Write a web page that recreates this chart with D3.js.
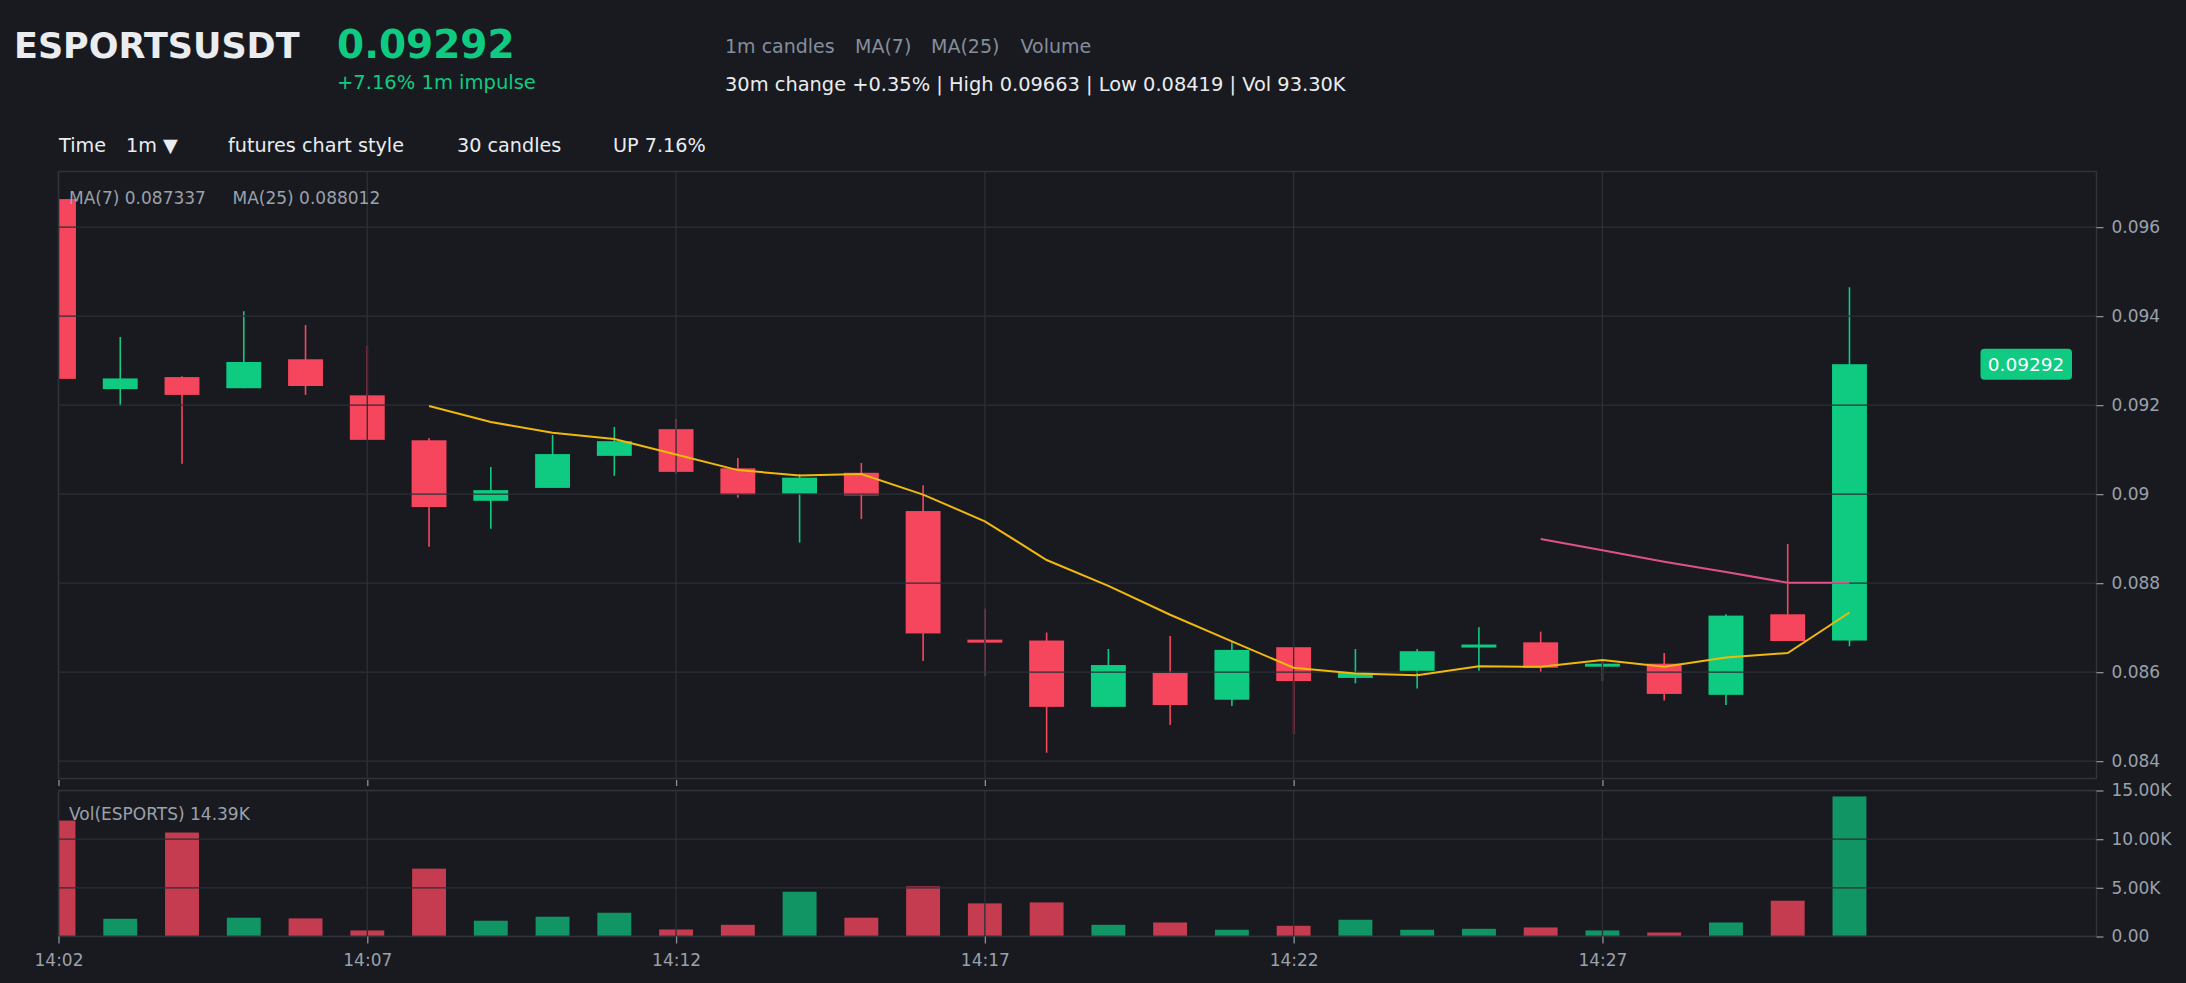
<!DOCTYPE html>
<html>
<head>
<meta charset="utf-8">
<script src="https://cdn.jsdelivr.net/npm/d3@7"></script>
<style>
  body { margin: 0; background: #181a20; }
  svg { display: block; font-family: "DejaVu Sans", sans-serif; }
</style>
</head>
<body>
<div id="chart"></div>
<script>
// 1m candles, 14:02 - 14:31
const times = ["14:02","14:03","14:04","14:05","14:06","14:07","14:08","14:09","14:10","14:11",
               "14:12","14:13","14:14","14:15","14:16","14:17","14:18","14:19","14:20","14:21",
               "14:22","14:23","14:24","14:25","14:26","14:27","14:28","14:29","14:30","14:31"];
const opens  = [0.09663,0.09236,0.09263,0.09238,0.09303,0.09222,0.09121,0.08985,0.09014,0.09086,
                0.09146,0.09058,0.09001,0.09048,0.08962,0.08673,0.08671,0.08522,0.08598,0.08538,
                0.08656,0.08587,0.08603,0.08658,0.08667,0.08614,0.08619,0.08549,0.08730,0.08671];
const highs  = [0.09663,0.09353,0.09265,0.09411,0.09380,0.09333,0.09126,0.09061,0.09133,0.09151,
                0.09169,0.09081,0.09045,0.09070,0.09020,0.08743,0.08689,0.08652,0.08681,0.08667,
                0.08656,0.08652,0.08652,0.08701,0.08691,0.08628,0.08643,0.08730,0.08888,0.09465];
const lows   = [0.09259,0.09198,0.09068,0.09238,0.09223,0.09121,0.08882,0.08922,0.09014,0.09041,
                0.09046,0.08992,0.08891,0.08944,0.08625,0.08592,0.08419,0.08522,0.08481,0.08524,
                0.08461,0.08575,0.08563,0.08603,0.08600,0.08580,0.08536,0.08526,0.08670,0.08658];
const closes = [0.09259,0.09260,0.09223,0.09297,0.09243,0.09122,0.08971,0.09009,0.09090,0.09119,
                0.09050,0.08999,0.09037,0.08997,0.08687,0.08669,0.08522,0.08616,0.08526,0.08650,
                0.08580,0.08599,0.08647,0.08662,0.08610,0.08619,0.08551,0.08727,0.08670,0.09292];
// volume in thousands
const volumes = [11.91,1.82,10.68,1.93,1.86,0.62,6.97,1.62,2.03,2.44,
                 0.72,1.20,4.60,1.93,5.15,3.40,3.50,1.20,1.44,0.69,
                 1.10,1.72,0.69,0.79,0.93,0.62,0.41,1.44,3.68,14.39];
// moving averages as drawn (null = not enough candles yet)
const ma7  = [null,null,null,null,null,null,0.09198,0.09162,0.09138,0.09124,
              0.09089,0.09054,0.09042,0.09045,0.08999,0.08939,0.08852,0.08794,0.08729,0.08669,
              0.08610,0.08597,0.08593,0.08613,0.08612,0.08627,0.08612,0.08633,0.08643,0.08734];
const ma25 = [null,null,null,null,null,null,null,null,null,null,
              null,null,null,null,null,null,null,null,null,null,
              null,null,null,null,0.08899,0.08874,0.08848,0.08825,0.08801,0.08801];

const priceTicks = [0.084,0.086,0.088,0.090,0.092,0.094,0.096];
const volTicks = [0,5,10,15];
const timeTicks = ["14:02","14:07","14:12","14:17","14:22","14:27"];

const upColor = "#0ecb81", downColor = "#f6465d";
const gridColor = "#2b2f36", textGray = "#9ba1aa";

const width = 2186, height = 983;
const left = 58.5, right = 2096.5;
const pTop = 171.5, pBottom = 778.5;
const vTop = 790.5, vBottom = 936.5;

const parse = d3.timeParse("%H:%M");
const data = times.map((t, i) => ({
    t: parse(t), open: opens[i], high: highs[i], low: lows[i], close: closes[i],
    vol: volumes[i], ma7: ma7[i], ma25: ma25[i], up: closes[i] >= opens[i]
}));

const svg = d3.select("#chart").append("svg")
    .attr("width", width)
    .attr("height", height);

svg.append("rect").attr("width", width).attr("height", height).attr("fill", "#181a20");

// scales
const x = d3.scaleTime()
    .domain([parse("14:02"), parse("14:35")])
    .range([left, right]);
const step = x(parse("14:03")) - x(parse("14:02"));
const bodyW = step * 0.565;

const y = d3.scaleLinear().domain([0.08361, 0.09725]).range([pBottom, pTop]);
const vy = d3.scaleLinear().domain([0, 15]).range([vBottom, vTop]);

// clip paths
const defs = svg.append("defs");
defs.append("clipPath").attr("id", "clipP").append("rect")
    .attr("x", left).attr("y", pTop).attr("width", right - left).attr("height", pBottom - pTop);
defs.append("clipPath").attr("id", "clipV").append("rect")
    .attr("x", left).attr("y", vTop).attr("width", right - left).attr("height", vBottom - vTop);

// ---------- price panel ----------
const pg = svg.append("g").attr("clip-path", "url(#clipP)");

// wicks
pg.selectAll(".wick")
    .data(data)
    .join("line")
    .attr("x1", d => x(d.t)).attr("x2", d => x(d.t))
    .attr("y1", d => y(d.high)).attr("y2", d => y(d.low))
    .attr("stroke", d => d.up ? upColor : downColor)
    .attr("stroke-width", 1.6);

// bodies
pg.selectAll(".body")
    .data(data)
    .join("rect")
    .attr("x", d => x(d.t) - bodyW / 2)
    .attr("y", d => y(Math.max(d.open, d.close)))
    .attr("width", bodyW)
    .attr("height", d => Math.max(3, Math.abs(y(d.open) - y(d.close))))
    .attr("fill", d => d.up ? upColor : downColor);

// grid drawn over the candles
pg.selectAll(".hgrid")
    .data(priceTicks)
    .join("line")
    .attr("x1", left).attr("x2", right)
    .attr("y1", d => y(d)).attr("y2", d => y(d))
    .attr("stroke", gridColor).attr("stroke-width", 1.3);
pg.selectAll(".vgrid")
    .data(timeTicks)
    .join("line")
    .attr("x1", d => x(parse(d))).attr("x2", d => x(parse(d)))
    .attr("y1", pTop).attr("y2", pBottom)
    .attr("stroke", gridColor).attr("stroke-width", 1.3);

// moving averages
const maLine = key => d3.line()
    .defined(d => d[key] != null)
    .x(d => x(d.t))
    .y(d => y(d[key]));
pg.append("path").datum(data)
    .attr("d", maLine("ma7"))
    .attr("fill", "none").attr("stroke", "#f0b90b").attr("stroke-width", 2);
pg.append("path").datum(data)
    .attr("d", maLine("ma25"))
    .attr("fill", "none").attr("stroke", "#e0508a").attr("stroke-width", 2);

svg.append("rect")
    .attr("x", left).attr("y", pTop).attr("width", right - left).attr("height", pBottom - pTop)
    .attr("fill", "none").attr("stroke", "#2f333a").attr("stroke-width", 1.5);

// ---------- volume panel ----------
const vg = svg.append("g").attr("clip-path", "url(#clipV)");

vg.selectAll(".vbar")
    .data(data)
    .join("rect")
    .attr("x", d => x(d.t) - bodyW / 2 + 0.5)
    .attr("y", d => vy(d.vol))
    .attr("width", bodyW - 1)
    .attr("height", d => vBottom - vy(d.vol))
    .attr("fill", d => d.up ? upColor : downColor)
    .attr("fill-opacity", d => d.up ? 0.7 : 0.78);

vg.selectAll(".vhgrid")
    .data(volTicks)
    .join("line")
    .attr("x1", left).attr("x2", right)
    .attr("y1", d => vy(d)).attr("y2", d => vy(d))
    .attr("stroke", gridColor).attr("stroke-width", 1.3);
vg.selectAll(".vvgrid")
    .data(timeTicks)
    .join("line")
    .attr("x1", d => x(parse(d))).attr("x2", d => x(parse(d)))
    .attr("y1", vTop).attr("y2", vBottom)
    .attr("stroke", gridColor).attr("stroke-width", 1.3);

svg.append("rect")
    .attr("x", left).attr("y", vTop).attr("width", right - left).attr("height", vBottom - vTop)
    .attr("fill", "none").attr("stroke", "#2f333a").attr("stroke-width", 1.5);

// ---------- axes ----------
function styleAxis(g) {
    g.select(".domain").remove();
    g.selectAll(".tick line").attr("stroke", "#8a9099").attr("stroke-width", 1.3);
    g.selectAll("text").attr("fill", textGray).attr("font-size", 17)
        .attr("font-family", "DejaVu Sans");
}

svg.append("g")
    .attr("transform", `translate(${right},0)`)
    .call(d3.axisRight(y).tickValues(priceTicks).tickSize(7).tickPadding(8)
        .tickFormat(d => String(+d.toFixed(3))))
    .call(styleAxis);

svg.append("g")
    .attr("transform", `translate(${right},0)`)
    .call(d3.axisRight(vy).tickValues(volTicks).tickSize(7).tickPadding(8)
        .tickFormat(d => d.toFixed(2) + (d === 0 ? "" : "K")))
    .call(styleAxis);

// small ticks between the panels
svg.append("g")
    .attr("transform", `translate(0,${pBottom + 1.5})`)
    .call(d3.axisBottom(x).tickValues(timeTicks.map(parse)).tickSize(6).tickFormat(""))
    .call(styleAxis);

// time axis
svg.append("g")
    .attr("transform", `translate(0,${vBottom})`)
    .call(d3.axisBottom(x).tickValues(timeTicks.map(parse)).tickSize(7).tickPadding(10)
        .tickFormat(d3.timeFormat("%H:%M")))
    .call(styleAxis);

// last price tag
const last = data[data.length - 1];
svg.append("rect")
    .attr("x", 1980.5).attr("y", y(last.close) - 15.5)
    .attr("width", 91.5).attr("height", 31).attr("rx", 4)
    .attr("fill", upColor);
svg.append("text")
    .attr("x", 2026).attr("y", y(last.close))
    .attr("dy", "0.36em")
    .attr("text-anchor", "middle")
    .attr("fill", "#ffffff").attr("font-size", 18.5)
    .text(d3.format(".5f")(last.close));

// panel legends
svg.append("text").attr("x", 69).attr("y", 203.5)
    .attr("fill", textGray).attr("font-size", 17)
    .text("MA(7) 0.087337");
svg.append("text").attr("x", 232.5).attr("y", 203.5)
    .attr("fill", textGray).attr("font-size", 17)
    .text("MA(25) 0.088012");
svg.append("text").attr("x", 69).attr("y", 820)
    .attr("fill", textGray).attr("font-size", 17)
    .text("Vol(ESPORTS) 14.39K");

// ---------- header ----------
svg.append("text").attr("x", 14).attr("y", 58)
    .attr("fill", "#eaecef").attr("font-size", 35).attr("font-weight", "bold")
    .text("ESPORTSUSDT");
svg.append("text").attr("x", 337).attr("y", 58)
    .attr("fill", upColor).attr("font-size", 39).attr("font-weight", "bold")
    .text("0.09292");
svg.append("text").attr("x", 337).attr("y", 89)
    .attr("fill", upColor).attr("font-size", 19.5)
    .text("+7.16% 1m impulse");

const legendItems = [["1m candles", 725], ["MA(7)", 855], ["MA(25)", 931], ["Volume", 1020.5]];
svg.selectAll(".hdr")
    .data(legendItems)
    .join("text")
    .attr("x", d => d[1]).attr("y", 52.5)
    .attr("fill", "#848e9c").attr("font-size", 19)
    .text(d => d[0]);

svg.append("text").attr("x", 725).attr("y", 90.5)
    .attr("fill", "#eaecef").attr("font-size", 19.4)
    .text("30m change +0.35% | High 0.09663 | Low 0.08419 | Vol 93.30K");

const toolbar = [["Time", 59], ["1m \u25BC", 126], ["futures chart style", 228], ["30 candles", 457], ["UP 7.16%", 613]];
svg.selectAll(".tool")
    .data(toolbar)
    .join("text")
    .attr("x", d => d[1]).attr("y", 151.5)
    .attr("fill", "#eaecef").attr("font-size", 19.2)
    .text(d => d[0]);
</script>
</body>
</html>
